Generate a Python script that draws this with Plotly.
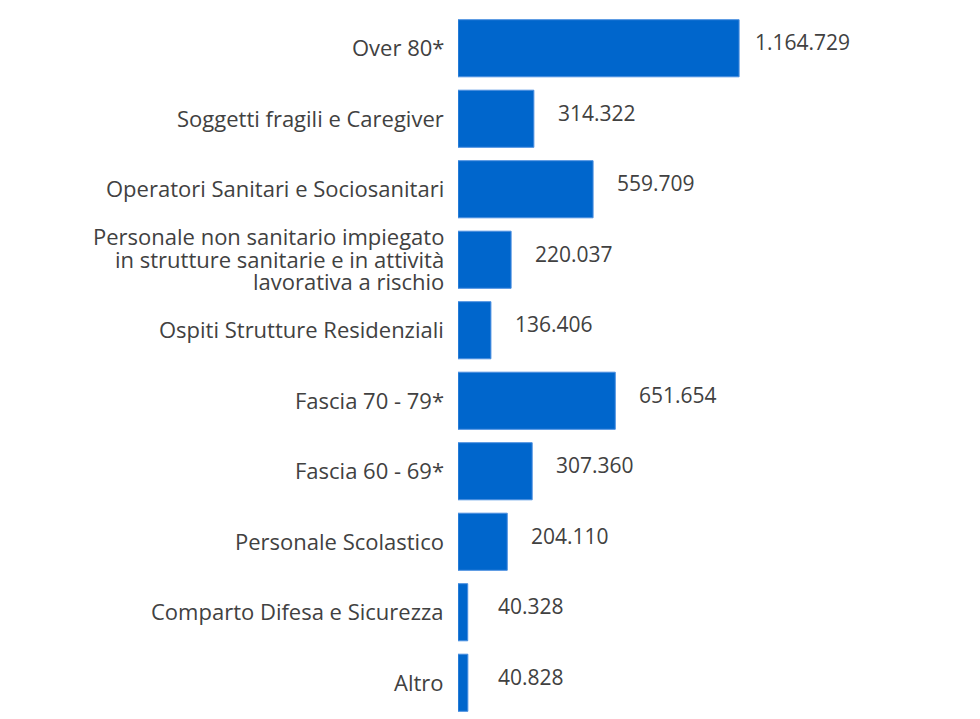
import plotly.graph_objects as go

# categories (top to bottom) and doses administered
categories = [
    "Over 80*",
    "Soggetti fragili e Caregiver",
    "Operatori Sanitari e Sociosanitari",
    "Personale non sanitario impiegato<br>in strutture sanitarie e in attività<br>lavorativa a rischio",
    "Ospiti Strutture Residenziali",
    "Fascia 70 - 79*",
    "Fascia 60 - 69*",
    "Personale Scolastico",
    "Comparto Difesa e Sicurezza",
    "Altro",
]
values = [1164729, 314322, 559709, 220037, 136406, 651654, 307360, 204110, 40328, 40828]
value_labels = ["1.164.729", "314.322", "559.709", "220.037", "136.406",
                "651.654", "307.360", "204.110", "40.328", "40.828"]

font_family = "Open Sans, Noto Sans, sans-serif"
text_color = "#414141"
line_step = 22.5  # px between lines of a wrapped label

fig = go.Figure()
fig.add_trace(
    go.Bar(
        x=values,
        y=categories,
        orientation="h",
        marker=dict(color="#0066CC", line=dict(color="#4a8fe0", width=1)),
        hoverinfo="x",
    )
)

for cat, val, lab in zip(categories, values, value_labels):
    # category label, right aligned left of the bars (one annotation per line)
    lines = cat.split("<br>")
    for i, line in enumerate(lines):
        fig.add_annotation(
            x=0, y=cat, text=line, showarrow=False,
            xanchor="right", xshift=-12,
            yshift=((len(lines) - 1) / 2 - i) * line_step + 1,
            font=dict(family=font_family, size=22, color=text_color),
        )
    # value label to the right of each bar, a little above centre
    fig.add_annotation(
        x=val, y=cat, text=lab, showarrow=False,
        xanchor="center", xshift=63, yshift=6,
        font=dict(family=font_family, size=21, color=text_color),
    )

fig.update_layout(
    width=980,
    height=719,
    margin=dict(l=450, r=0, t=5, b=9),
    paper_bgcolor="white",
    plot_bgcolor="white",
    bargap=0.19,
    showlegend=False,
    xaxis=dict(range=[0, 2196000], visible=False, fixedrange=True),
    yaxis=dict(
        autorange="reversed",
        showgrid=False,
        zeroline=False,
        showline=False,
        showticklabels=False,
        ticks="",
        fixedrange=True,
    ),
)

fig.write_html("out.html")
